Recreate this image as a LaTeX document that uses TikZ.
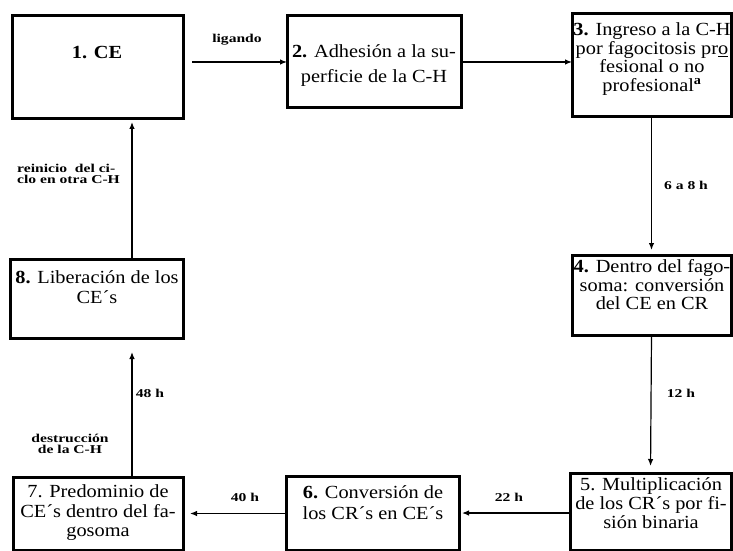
\documentclass[tikz,border=0pt]{standalone}
\usepackage{fontspec}
\setmainfont{Liberation Serif}[FakeStretch=1.1]
\newfontfamily\lblfont{Liberation Serif}[FakeStretch=1.3]
\usetikzlibrary{arrows.meta}
\tikzset{
  box/.style={draw, line width=3pt, inner sep=0pt, outer sep=0pt, anchor=north west},
  btext/.style={align=center, inner sep=0pt, font=\fontsize{18.5}{#1}\selectfont},
  lbl/.style={align=center, inner sep=0pt, font=\lblfont\bfseries\fontsize{12}{10.5}\selectfont},
  lbll/.style={align=left, inner sep=0pt, font=\lblfont\bfseries\fontsize{12}{10.5}\selectfont},
  conn/.style={line width=1.2pt, -{Latex[length=7pt,width=5.5pt]}}
}
\begin{document}
\begin{tikzpicture}[x=1pt,y=1pt]
\useasboundingbox (0,0) rectangle (733,550);
% boxes
\node[box, minimum width=171pt, minimum height=103pt] (b1) at (12,534) {};
\node[box, minimum width=174pt, minimum height=92pt] (b2) at (287,534) {};
\node[box, minimum width=159pt, minimum height=103pt] (b3) at (572,536) {};
\node[box, minimum width=159pt, minimum height=80pt] (b4) at (572,295) {};
\node[box, minimum width=161pt, minimum height=77pt] (b5) at (570,77) {};
\node[box, minimum width=173pt, minimum height=74pt] (b6) at (286,74) {};
\node[box, minimum width=170pt, minimum height=73pt] (b7) at (13,73) {};
\node[box, minimum width=173pt, minimum height=79pt] (b8) at (10,291) {};
% texts
\node[btext=18] (t1) at (97,497) {\textbf{1. CE}};
\node[btext=25] (t2) at (374,484.5) {\textbf{2.} Adhesión a la su-\\perficie de la C-H};
\node[btext=18.5] (t3) at (652,491) {\textbf{3.} Ingreso a la C-H\\por fagocitosis pr\underline{o}\\fesional o no\\profesional\textsuperscript{\textbf{a}}};
\node[btext=18.5] (t4) at (652,265) {\textbf{4.} Dentro del fago-\\soma: conversión\\del CE en CR};
\node[btext=19] (t5) at (651,46.5) {5. Multiplicación\\de los CR´s por fi-\\sión binaria};
\node[btext=21] (t6) at (373,47.5) {\textbf{6.} Conversión de\\los CR´s en CE´s};
\node[btext=19.5] (t7) at (98,37) {7. Predominio de\\CE´s dentro del fa-\\gosoma};
\node[btext=20] (t8) at (97,263) {\textbf{8.} Liberación de los\\CE´s};
% helper coordinate for left column arrows
\coordinate (cl) at (132,0);
% connectors
\draw[conn, shorten <=9pt] (b1.east |- b2.west) -- (b2.west);
\draw[conn, shorten <=2pt] (b2.east) -- (b2.east -| b3.west);
\draw[conn, shorten >=5pt] (b3.south) -- (b4.north);
\draw[conn, shorten >=7pt] (b4.south) -- (b5.north);
\draw[conn, shorten >=3pt] (b5.west |- b6.east) -- (b6.east);
\draw[conn, shorten >=7pt] (b6.west |- b7.east) -- (b7.east);
\draw[conn, shorten >=14pt] (b7.north -| cl) -- (b8.south -| cl);
\draw[conn, shorten >=3pt] (b8.north -| cl) -- (b1.south -| cl);
% labels
\node[lbl] (l1) at (237,510) {ligando};
\node[lbl] (l2) at (686,365) {6 a 8 h};
\node[lbl] (l3) at (681,157) {12 h};
\node[lbl] (l4) at (509,53) {22 h};
\node[lbl] (l5) at (245,53) {40 h};
\node[lbl] (l6) at (150,157) {48 h};
\node[lbl] (l7) at (70,106) {destrucción\\de la C-H};
\node[lbll, anchor=west] (l8) at (17,376) {reinicio\ \ del ci-\\clo en otra C-H};
\end{tikzpicture}
\end{document}
